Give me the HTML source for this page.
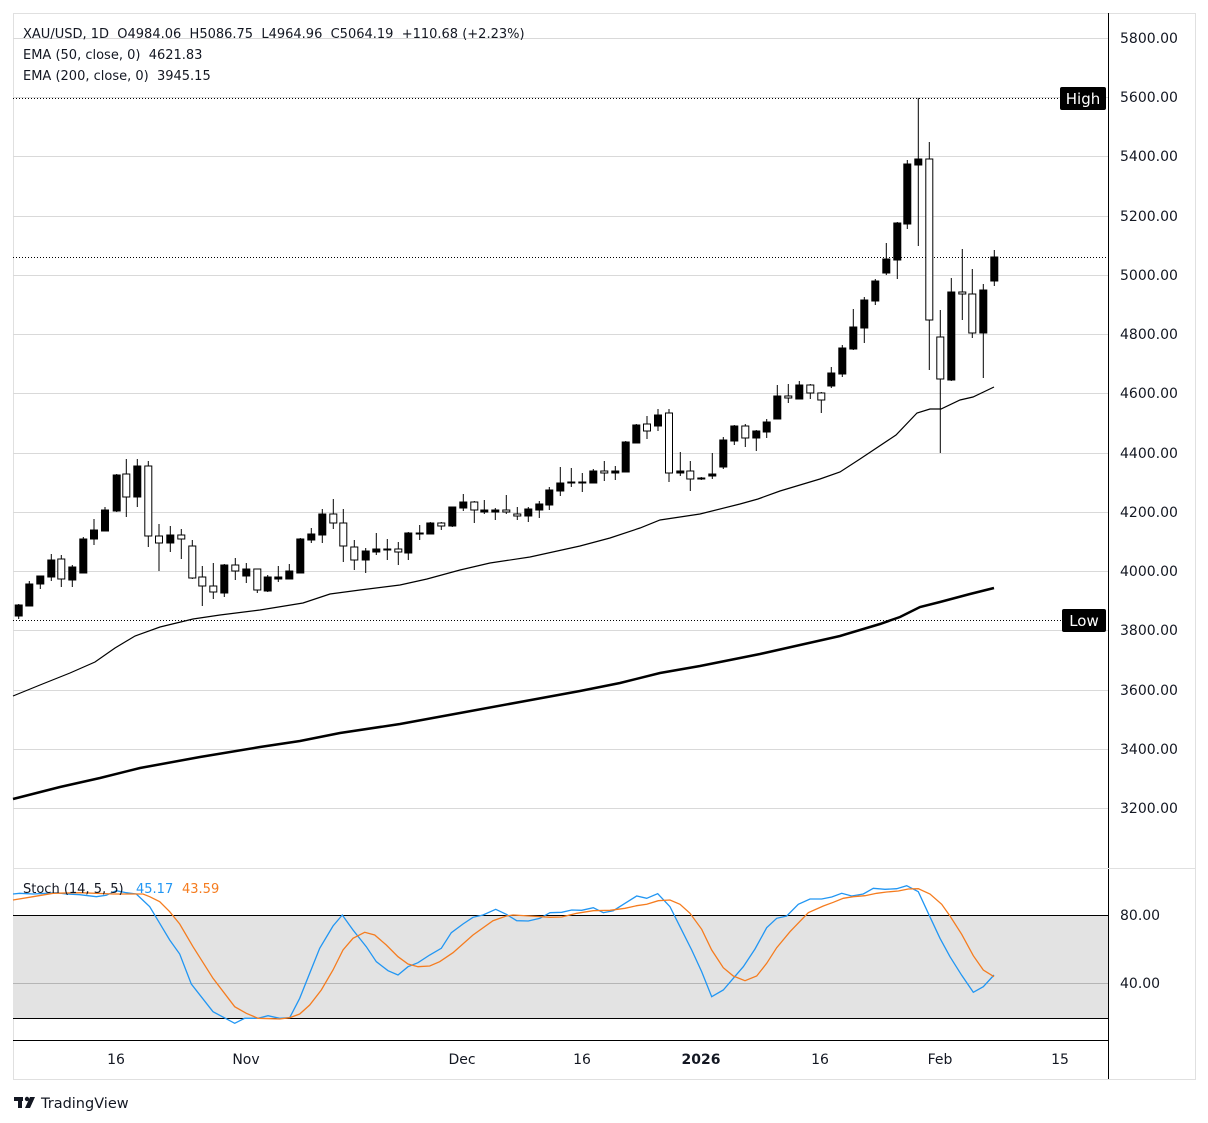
<!DOCTYPE html>
<html><head><meta charset="utf-8"><style>
html,body{margin:0;padding:0;background:#fff;width:1208px;height:1123px;overflow:hidden}
svg{display:block;font-family:"DejaVu Sans","Liberation Sans",sans-serif}
.b{fill:#000;stroke:#000;stroke-width:1}
.w{fill:#fff;stroke:#000;stroke-width:1}
.k{stroke:#000;stroke-width:1}
.g{stroke:#d9d9d9;stroke-width:1}
.ax{font-size:14px;fill:#131722}
</style></head><body>
<svg width="1208" height="1123" viewBox="0 0 1208 1123">
<rect x="13.5" y="13.5" width="1182" height="1066" fill="#fff" stroke="#e0e0e0"/>
<g class="g">
<line x1="13" x2="1108" y1="38.5" y2="38.5"/><line x1="13" x2="1108" y1="97.5" y2="97.5"/>
<line x1="13" x2="1108" y1="156.5" y2="156.5"/><line x1="13" x2="1108" y1="216.5" y2="216.5"/>
<line x1="13" x2="1108" y1="275.5" y2="275.5"/><line x1="13" x2="1108" y1="334.5" y2="334.5"/>
<line x1="13" x2="1108" y1="393.5" y2="393.5"/><line x1="13" x2="1108" y1="453.5" y2="453.5"/>
<line x1="13" x2="1108" y1="512.5" y2="512.5"/><line x1="13" x2="1108" y1="571.5" y2="571.5"/>
<line x1="13" x2="1108" y1="630.5" y2="630.5"/><line x1="13" x2="1108" y1="690.5" y2="690.5"/>
<line x1="13" x2="1108" y1="749.5" y2="749.5"/><line x1="13" x2="1108" y1="808.5" y2="808.5"/>
</g>
<line x1="13" x2="1060" y1="98.5" y2="98.5" stroke="#000" stroke-dasharray="1,2"/>
<line x1="13" x2="1062" y1="620.5" y2="620.5" stroke="#000" stroke-dasharray="1,2"/>
<line x1="13" x2="1108" y1="257.5" y2="257.5" stroke="#000" stroke-dasharray="1,2"/>
<polyline fill="none" stroke="#000" stroke-width="2.5" points="13,799 60,787 100,778 140,768 200,757 260,747 300,741 340,733 400,724 460,713 520,702 580,691 620,683 660,673 700,666 760,654 800,645 840,636 880,624 900,617 920,607 940,602 970,594 994,588"/>
<polyline fill="none" stroke="#000" stroke-width="1.2" points="13,696 40,685 70,673 95,662 115,648 135,636 160,627 193,619 220,615 260,610 303,603 330,594 360,590 400,585 427,579 460,570 490,563 530,557 580,546 610,538 640,528 660,520 700,514 740,504 758,499 780,491 820,479 840,472 860,459 896,435 917,413 930,409 941,409 960,400 973,397 994,387"/>
<g>
<line class="k" x1="18.7" x2="18.7" y1="604" y2="619"/><rect class="b" x="15.2" y="605" width="7" height="11"/>
<line class="k" x1="29.3" x2="29.3" y1="581" y2="606"/><rect class="b" x="25.8" y="584" width="7" height="22"/>
<line class="k" x1="40.3" x2="40.3" y1="576" y2="589"/><rect class="b" x="36.8" y="576" width="7" height="8"/>
<line class="k" x1="51.3" x2="51.3" y1="554" y2="581"/><rect class="b" x="47.8" y="560" width="7" height="17"/>
<line class="k" x1="61.3" x2="61.3" y1="555" y2="587"/><rect class="w" x="57.8" y="559" width="7" height="20"/>
<line class="k" x1="72.3" x2="72.3" y1="565" y2="587"/><rect class="b" x="68.8" y="567" width="7" height="13"/>
<line class="k" x1="83.3" x2="83.3" y1="537" y2="573"/><rect class="b" x="79.8" y="539" width="7" height="34"/>
<line class="k" x1="94" x2="94" y1="519" y2="545"/><rect class="b" x="90.5" y="530" width="7" height="9"/>
<line class="k" x1="105" x2="105" y1="507" y2="531"/><rect class="b" x="101.5" y="510" width="7" height="21"/>
<line class="k" x1="116.7" x2="116.7" y1="474" y2="512"/><rect class="b" x="113.2" y="475" width="7" height="36"/>
<line class="k" x1="126.3" x2="126.3" y1="459" y2="517"/><rect class="w" x="122.8" y="474" width="7" height="23"/>
<line class="k" x1="137.3" x2="137.3" y1="459" y2="507"/><rect class="b" x="133.8" y="466" width="7" height="31"/>
<line class="k" x1="148.3" x2="148.3" y1="461" y2="547"/><rect class="w" x="144.8" y="466" width="7" height="70"/>
<line class="k" x1="159" x2="159" y1="524" y2="571"/><rect class="w" x="155.5" y="536" width="7" height="7"/>
<line class="k" x1="170.3" x2="170.3" y1="526" y2="552"/><rect class="b" x="166.8" y="535" width="7" height="8"/>
<line class="k" x1="181.3" x2="181.3" y1="529" y2="559"/><rect class="w" x="177.8" y="535" width="7" height="4"/>
<line class="k" x1="192.3" x2="192.3" y1="540" y2="579"/><rect class="w" x="188.8" y="546" width="7" height="32"/>
<line class="k" x1="202.3" x2="202.3" y1="566" y2="606"/><rect class="w" x="198.8" y="577" width="7" height="9"/>
<line class="k" x1="213.3" x2="213.3" y1="563" y2="599"/><rect class="w" x="209.8" y="586" width="7" height="6"/>
<line class="k" x1="224.3" x2="224.3" y1="564" y2="597"/><rect class="b" x="220.8" y="565" width="7" height="28"/>
<line class="k" x1="235.3" x2="235.3" y1="558" y2="580"/><rect class="w" x="231.8" y="565" width="7" height="6"/>
<line class="k" x1="246.3" x2="246.3" y1="563" y2="583"/><rect class="b" x="242.8" y="569" width="7" height="7"/>
<line class="k" x1="257.3" x2="257.3" y1="569" y2="593"/><rect class="w" x="253.8" y="569" width="7" height="21"/>
<line class="k" x1="267.7" x2="267.7" y1="575" y2="592"/><rect class="b" x="264.2" y="577" width="7" height="14"/>
<line class="k" x1="278.3" x2="278.3" y1="566" y2="582"/><rect class="b" x="274.8" y="577" width="7" height="2"/>
<line class="k" x1="289.3" x2="289.3" y1="564" y2="579"/><rect class="b" x="285.8" y="571" width="7" height="8"/>
<line class="k" x1="300.3" x2="300.3" y1="538" y2="573"/><rect class="b" x="296.8" y="539" width="7" height="34"/>
<line class="k" x1="311.3" x2="311.3" y1="528" y2="543"/><rect class="b" x="307.8" y="534" width="7" height="6"/>
<line class="k" x1="322.3" x2="322.3" y1="509" y2="543"/><rect class="b" x="318.8" y="514" width="7" height="21"/>
<line class="k" x1="333.3" x2="333.3" y1="499" y2="529"/><rect class="w" x="329.8" y="514" width="7" height="9"/>
<line class="k" x1="343.3" x2="343.3" y1="509" y2="562"/><rect class="w" x="339.8" y="523" width="7" height="23"/>
<line class="k" x1="354.3" x2="354.3" y1="540" y2="570"/><rect class="w" x="350.8" y="547" width="7" height="13"/>
<line class="k" x1="365.7" x2="365.7" y1="548" y2="573"/><rect class="b" x="362.2" y="551" width="7" height="9"/>
<line class="k" x1="376.3" x2="376.3" y1="533" y2="555"/><rect class="b" x="372.8" y="549" width="7" height="3"/>
<line class="k" x1="387.3" x2="387.3" y1="539" y2="560"/><rect class="b" x="383.8" y="549" width="7" height="1"/>
<line class="k" x1="398.3" x2="398.3" y1="542" y2="565"/><rect class="w" x="394.8" y="549" width="7" height="3"/>
<line class="k" x1="408.3" x2="408.3" y1="532" y2="560"/><rect class="b" x="404.8" y="533" width="7" height="20"/>
<line class="k" x1="419.7" x2="419.7" y1="525" y2="540"/><rect class="b" x="416.2" y="533" width="7" height="1"/>
<line class="k" x1="430.3" x2="430.3" y1="522" y2="534"/><rect class="b" x="426.8" y="523" width="7" height="11"/>
<line class="k" x1="441.3" x2="441.3" y1="522" y2="530"/><rect class="w" x="437.8" y="523" width="7" height="3"/>
<line class="k" x1="452.3" x2="452.3" y1="507" y2="527"/><rect class="b" x="448.8" y="507" width="7" height="19"/>
<line class="k" x1="463.3" x2="463.3" y1="494" y2="511"/><rect class="b" x="459.8" y="502" width="7" height="6"/>
<line class="k" x1="474.3" x2="474.3" y1="501" y2="523"/><rect class="w" x="470.8" y="502" width="7" height="8"/>
<line class="k" x1="484.3" x2="484.3" y1="500" y2="514"/><rect class="b" x="480.8" y="510" width="7" height="2"/>
<line class="k" x1="495.3" x2="495.3" y1="508" y2="520"/><rect class="b" x="491.8" y="510" width="7" height="2"/>
<line class="k" x1="506.3" x2="506.3" y1="495" y2="514"/><rect class="w" x="502.8" y="510" width="7" height="2"/>
<line class="k" x1="517.3" x2="517.3" y1="507" y2="520"/><rect class="w" x="513.8" y="514" width="7" height="2"/>
<line class="k" x1="528.3" x2="528.3" y1="507" y2="522"/><rect class="b" x="524.8" y="509" width="7" height="7"/>
<line class="k" x1="539.3" x2="539.3" y1="501" y2="518"/><rect class="b" x="535.8" y="504" width="7" height="6"/>
<line class="k" x1="549.3" x2="549.3" y1="487" y2="510"/><rect class="b" x="545.8" y="490" width="7" height="15"/>
<line class="k" x1="560.3" x2="560.3" y1="467" y2="496"/><rect class="b" x="556.8" y="483" width="7" height="8"/>
<line class="k" x1="571.3" x2="571.3" y1="468" y2="487"/><rect class="b" x="567.8" y="482" width="7" height="1"/>
<line class="k" x1="582.3" x2="582.3" y1="473" y2="492"/><rect class="b" x="578.8" y="482" width="7" height="1"/>
<line class="k" x1="593.3" x2="593.3" y1="469" y2="483"/><rect class="b" x="589.8" y="471" width="7" height="12"/>
<line class="k" x1="604.3" x2="604.3" y1="461" y2="481"/><rect class="w" x="600.8" y="471" width="7" height="2"/>
<line class="k" x1="615.3" x2="615.3" y1="466" y2="480"/><rect class="b" x="611.8" y="471" width="7" height="2"/>
<line class="k" x1="625.7" x2="625.7" y1="441" y2="472"/><rect class="b" x="622.2" y="442" width="7" height="30"/>
<line class="k" x1="636.3" x2="636.3" y1="424" y2="443"/><rect class="b" x="632.8" y="425" width="7" height="18"/>
<line class="k" x1="647" x2="647" y1="416" y2="439"/><rect class="w" x="643.5" y="424" width="7" height="7"/>
<line class="k" x1="658" x2="658" y1="409" y2="431"/><rect class="b" x="654.5" y="415" width="7" height="11"/>
<line class="k" x1="669" x2="669" y1="409" y2="482"/><rect class="w" x="665.5" y="413" width="7" height="60"/>
<line class="k" x1="680.3" x2="680.3" y1="452" y2="476"/><rect class="b" x="676.8" y="471" width="7" height="2"/>
<line class="k" x1="690.3" x2="690.3" y1="461" y2="491"/><rect class="w" x="686.8" y="471" width="7" height="8"/>
<line class="k" x1="701.3" x2="701.3" y1="477" y2="480"/><rect class="b" x="697.8" y="478" width="7" height="1"/>
<line class="k" x1="712.3" x2="712.3" y1="453" y2="479"/><rect class="b" x="708.8" y="474" width="7" height="2"/>
<line class="k" x1="723.3" x2="723.3" y1="437" y2="469"/><rect class="b" x="719.8" y="440" width="7" height="27"/>
<line class="k" x1="734.3" x2="734.3" y1="425" y2="445"/><rect class="b" x="730.8" y="426" width="7" height="15"/>
<line class="k" x1="745.3" x2="745.3" y1="424" y2="447"/><rect class="w" x="741.8" y="426" width="7" height="12"/>
<line class="k" x1="756.3" x2="756.3" y1="430" y2="451"/><rect class="b" x="752.8" y="431" width="7" height="7"/>
<line class="k" x1="766.7" x2="766.7" y1="419" y2="438"/><rect class="b" x="763.2" y="422" width="7" height="10"/>
<line class="k" x1="777.3" x2="777.3" y1="385" y2="419"/><rect class="b" x="773.8" y="396" width="7" height="23"/>
<line class="k" x1="788.3" x2="788.3" y1="384" y2="403"/><rect class="w" x="784.8" y="396" width="7" height="2"/>
<line class="k" x1="799.3" x2="799.3" y1="381" y2="399"/><rect class="b" x="795.8" y="385" width="7" height="14"/>
<line class="k" x1="810.3" x2="810.3" y1="384" y2="399"/><rect class="w" x="806.8" y="385" width="7" height="8"/>
<line class="k" x1="821.3" x2="821.3" y1="392" y2="413"/><rect class="w" x="817.8" y="393" width="7" height="7"/>
<line class="k" x1="831.3" x2="831.3" y1="367" y2="388"/><rect class="b" x="827.8" y="373" width="7" height="13"/>
<line class="k" x1="842.3" x2="842.3" y1="345" y2="377"/><rect class="b" x="838.8" y="348" width="7" height="26"/>
<line class="k" x1="853.3" x2="853.3" y1="309" y2="350"/><rect class="b" x="849.8" y="327" width="7" height="22"/>
<line class="k" x1="864.3" x2="864.3" y1="297" y2="343"/><rect class="b" x="860.8" y="300" width="7" height="28"/>
<line class="k" x1="875.3" x2="875.3" y1="279" y2="305"/><rect class="b" x="871.8" y="281" width="7" height="20"/>
<line class="k" x1="886.3" x2="886.3" y1="243" y2="275"/><rect class="b" x="882.8" y="259" width="7" height="14"/>
<line class="k" x1="897.3" x2="897.3" y1="222" y2="279"/><rect class="b" x="893.8" y="223" width="7" height="37"/>
<line class="k" x1="907.3" x2="907.3" y1="160" y2="229"/><rect class="b" x="903.8" y="164" width="7" height="60"/>
<line class="k" x1="918.3" x2="918.3" y1="98" y2="246"/><rect class="b" x="914.8" y="159" width="7" height="6"/>
<line class="k" x1="929.3" x2="929.3" y1="142" y2="370"/><rect class="w" x="925.8" y="159" width="7" height="161"/>
<line class="k" x1="940.3" x2="940.3" y1="310" y2="453"/><rect class="w" x="936.8" y="337" width="7" height="42"/>
<line class="k" x1="951.3" x2="951.3" y1="278" y2="381"/><rect class="b" x="947.8" y="292" width="7" height="88"/>
<line class="k" x1="962.3" x2="962.3" y1="249" y2="320"/><rect class="w" x="958.8" y="292" width="7" height="2"/>
<line class="k" x1="972.3" x2="972.3" y1="269" y2="338"/><rect class="w" x="968.8" y="294" width="7" height="39"/>
<line class="k" x1="983.3" x2="983.3" y1="284" y2="378"/><rect class="b" x="979.8" y="290" width="7" height="43"/>
<line class="k" x1="994.3" x2="994.3" y1="250" y2="286"/><rect class="b" x="990.8" y="257" width="7" height="24"/>
</g>
<g font-size="13" fill="#131722">
<text x="23" y="38">XAU/USD, 1D&#160; O4984.06&#160; H5086.75&#160; L4964.96&#160; C5064.19&#160; +110.68 (+2.23%)</text>
<text x="23" y="59">EMA (50, close, 0)&#160; 4621.83</text>
<text x="23" y="80">EMA (200, close, 0)&#160; 3945.15</text>
</g>
<rect x="1060" y="87" width="46" height="23" rx="2" fill="#000"/>
<text x="1083" y="104" font-size="15" fill="#fff" text-anchor="middle">High</text>
<rect x="1062" y="609" width="44" height="23" rx="2" fill="#000"/>
<text x="1084" y="626" font-size="15" fill="#fff" text-anchor="middle">Low</text>
<line x1="1108.5" x2="1108.5" y1="13" y2="1079" stroke="#000"/>
<g class="ax">
<text x="1120" y="43">5800.00</text><text x="1120" y="102">5600.00</text>
<text x="1120" y="161">5400.00</text><text x="1120" y="221">5200.00</text>
<text x="1120" y="280">5000.00</text><text x="1120" y="339">4800.00</text>
<text x="1120" y="398">4600.00</text><text x="1120" y="458">4400.00</text>
<text x="1120" y="517">4200.00</text><text x="1120" y="576">4000.00</text>
<text x="1120" y="635">3800.00</text><text x="1120" y="695">3600.00</text>
<text x="1120" y="754">3400.00</text><text x="1120" y="813">3200.00</text>
<text x="1120" y="920">80.00</text><text x="1120" y="988">40.00</text>
</g>
<line x1="13" x2="1195" y1="868.5" y2="868.5" stroke="#e0e0e0"/>
<rect x="13" y="915" width="1095" height="103" fill="#e3e3e3"/>
<line x1="13" x2="1108" y1="983.5" y2="983.5" stroke="#b5b5b5"/>
<line x1="13" x2="1108" y1="915.5" y2="915.5" stroke="#000"/>
<line x1="13" x2="1108" y1="1018.5" y2="1018.5" stroke="#000"/>
<polyline fill="none" stroke="#2196f3" stroke-width="1.3" points="13,894 19.7,893.3 33,894 46.3,893.3 56.3,892.7 66.3,894 79.7,894.7 96.3,896.7 106.3,895.3 116.3,890.7 126.3,892.7 136.3,894 149.7,906.7 159.7,923.3 169.7,940 179.7,954 191.3,984 213,1011.7 234.7,1023.3 244.7,1018.3 258,1018.3 268,1015.7 279.7,1018.3 289.7,1017.7 299.7,998.3 309.7,973.3 319.7,948.3 333,926 342.3,915 353,930 366.3,946.7 376.3,961.7 388,970.7 398,975 408,966.7 418,962.7 429.7,955 441.3,948.3 451.3,932.7 463,924 473,917.3 483,915 495.7,909.3 506.3,914.3 516.7,920.7 528.3,921 540,918.3 550,912.7 561.7,912.3 571.7,910 581.7,910.3 593.3,907.7 603.3,912.7 613.3,910.7 625,903.3 636.7,896 646.7,898.3 657.7,893.7 670,906.7 680,926.7 691.7,950 701.7,971.7 711.7,996.7 723.3,990 733.3,978.3 743.3,966.7 755,949 766.7,927.7 776.7,918.3 786.7,916 798.3,904.3 810,899 821.7,899 831.7,897 841.7,893.3 851.7,896 863.3,894 873.3,888.3 885,889.3 896.7,888.7 906.7,885.7 918.3,891.7 928.3,913.3 940,938.3 950,956.7 961.7,975.3 973.3,992.3 983.3,986.7 994,975"/>
<polyline fill="none" stroke="#f57c1f" stroke-width="1.3" points="13,900 33,896.7 53,893.3 79.7,892.7 113,894 143,894 149.7,896.7 159.7,901.7 169.7,911.7 179.7,924 193,946.7 213,978.3 234.7,1006.7 246.3,1013.3 258,1018.3 279.7,1019 289.7,1017.7 299.7,1014 309.7,1005 321.3,990 333,970 343,950 353,938.3 364.7,932.3 374.7,935 386.3,945 398,956.7 408,964 418,966.7 429.7,966 439.7,961.7 453,952.7 473,935 493,920.7 506.3,916 513,915 530,916 550,917.3 561.7,917 576.7,913.3 593.3,910.7 610,910.3 625,908.3 636.7,905.7 646.7,904.3 658.3,900.7 670,900 680,904.3 690,913.3 701.7,929.3 711.7,950 723.3,967.7 733.3,976 745,980.7 756.7,976 766.7,963.3 776.7,947.7 790,931.7 808.3,912.7 823.3,906 833.3,902.3 843.3,898.3 853.3,896.7 865,895.7 876.7,893.3 886.7,892 898.3,891 908.3,889 918.3,888.7 930,894 941.7,904.3 950,916 961.7,934.3 973.3,955.7 983.3,970 994,976.7"/>
<g font-size="13">
<text x="23" y="893" fill="#131722">Stoch (14, 5, 5)</text>
<text x="136" y="893" fill="#2196f3">45.17</text>
<text x="182" y="893" fill="#f57c1f">43.59</text>
</g>
<line x1="13" x2="1108" y1="1040.5" y2="1040.5" stroke="#000"/>
<g class="ax" text-anchor="middle">
<text x="116" y="1064">16</text><text x="246" y="1064">Nov</text>
<text x="462" y="1064">Dec</text><text x="582" y="1064">16</text>
<text x="701" y="1064" font-weight="bold">2026</text><text x="820" y="1064">16</text>
<text x="940" y="1064">Feb</text><text x="1060" y="1064">15</text>
</g>
<g fill="#131722">
<rect x="14" y="1097" width="9" height="4"/><rect x="18" y="1097" width="4" height="11"/>
<circle cx="27" cy="1099" r="2.2"/><polygon points="30,1097 35,1097 30,1108 25,1108"/>
</g>
<text x="41" y="1108" font-size="14.5" fill="#131722">TradingView</text>
</svg>
</body></html>
